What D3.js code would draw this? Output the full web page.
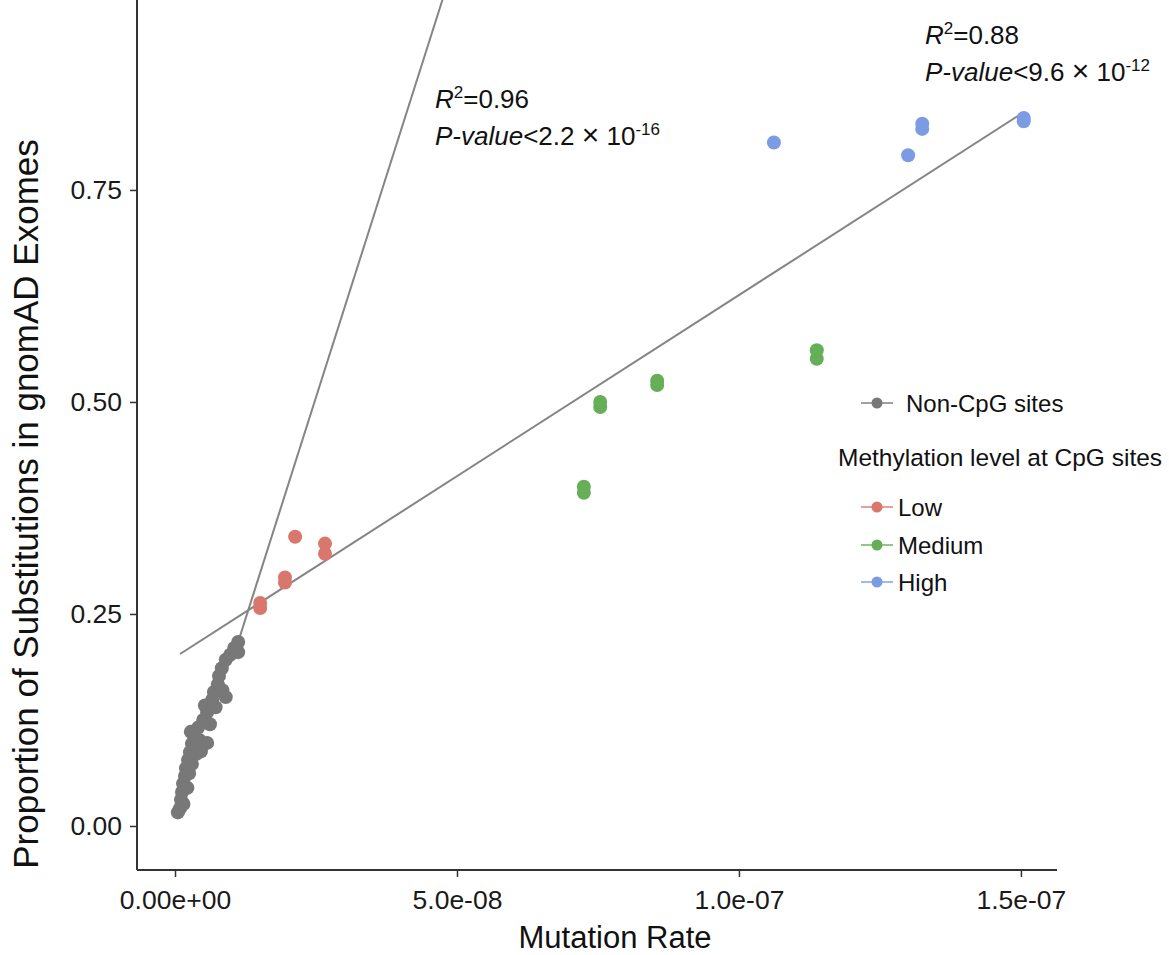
<!DOCTYPE html>
<html><head><meta charset="utf-8">
<script src="https://cdn.jsdelivr.net/npm/d3@7"></script>
<style>body{margin:0;background:#fff;} text{font-family:"Liberation Sans",Arial,sans-serif;}</style>
</head><body>
<svg id="chart" width="1169" height="955"></svg>
<script>
// ---- data ----
const nonCpG = [
  [0.5e-9,0.016],[0.9e-9,0.021],[1.06e-9,0.031],[1.5e-9,0.026],[1.24e-9,0.040],[1.42e-9,0.050],
  [2.2e-9,0.045],[1.77e-9,0.059],[1.95e-9,0.068],[2.5e-9,0.062],[2.3e-9,0.078],[2.66e-9,0.087],
  [3.0e-9,0.073],[3.0e-9,0.097],[3.4e-9,0.106],[2.8e-9,0.111],[4.1e-9,0.116],[4.4e-9,0.101],
  [5.7e-9,0.098],[5.0e-9,0.125],[5.7e-9,0.134],[5.3e-9,0.142],[6.6e-9,0.149],[6.9e-9,0.158],
  [9.0e-9,0.152],[7.6e-9,0.167],[7.8e-9,0.177],[8.3e-9,0.186],[9.0e-9,0.196],[9.8e-9,0.202],
  [1.05e-8,0.210],[1.12e-8,0.217],[1.12e-8,0.205],[4.6e-9,0.088],[6.2e-9,0.120],
  [7.2e-9,0.140],[8.4e-9,0.160],[3.8e-9,0.085]
];
const lowCpG = [[2.13e-8,0.341],[2.66e-8,0.333],[2.66e-8,0.321],[1.95e-8,0.293],[1.95e-8,0.287],[1.51e-8,0.263],[1.51e-8,0.257]];
const mediumCpG = [[7.54e-8,0.494],[7.54e-8,0.500],[8.55e-8,0.520],[8.55e-8,0.525],[7.25e-8,0.393],[7.25e-8,0.400],[1.138e-7,0.551],[1.138e-7,0.561]];
const highCpG = [[1.062e-7,0.806],[1.325e-7,0.822],[1.325e-7,0.828],[1.30e-7,0.791],[1.505e-7,0.831],[1.505e-7,0.835]];
const seriesNames = ["Non-CpG sites","Low","Medium","High"];
const seriesColors = ["#787878","#d9776d","#66ae58","#7b9be2"];
// fitted lines: [slope, intercept, xStart, xEnd]
const fitNonCpG = [2.09e7, -0.017, 1.08e-8, 5.0e-8];
const fitAll = [4.27e6, 0.199, 0.89e-9, 1.505e-7];
const xTicks = [0, 5e-8, 1e-7, 1.5e-7];
const xTickLabels = ["0.00e+00","5.0e-08","1.0e-07","1.5e-07"];
const yTicks = [0, 0.25, 0.5, 0.75];
const yTickLabels = ["0.00","0.25","0.50","0.75"];

const svg = d3.select("#chart");
const L = 137, R = 1057, T = 0, B = 870;
const x = d3.scaleLinear().domain([-6.74e-9, 1.564e-7]).range([L, R]);
const y = d3.scaleLinear().domain([-0.0519, 0.974]).range([B, T]);

svg.append("defs").append("clipPath").attr("id","clip")
  .append("rect").attr("x",L).attr("y",T).attr("width",R-L).attr("height",B-T);

// regression lines
const plot = svg.append("g").attr("clip-path","url(#clip)");
[fitNonCpG, fitAll].forEach(f => {
  const [m,b,x0,x1] = f;
  plot.append("line")
    .attr("x1", x(x0)).attr("y1", y(m*x0+b))
    .attr("x2", x(x1)).attr("y2", y(m*x1+b))
    .attr("stroke","#858585").attr("stroke-width",2);
});

// points
[nonCpG, lowCpG, mediumCpG, highCpG].forEach((arr,i) => {
  plot.append("g").selectAll("circle").data(arr).join("circle")
    .attr("cx", d=>x(d[0])).attr("cy", d=>y(d[1])).attr("r",7)
    .attr("fill", seriesColors[i]);
});

// axes
const xAxis = svg.append("g").attr("transform",`translate(0,${B})`)
  .call(d3.axisBottom(x).tickValues(xTicks).tickFormat((d,i)=>xTickLabels[i]).tickSize(7).tickPadding(13));
const yAxis = svg.append("g").attr("transform",`translate(${L},0)`)
  .call(d3.axisLeft(y).tickValues(yTicks).tickFormat((d,i)=>yTickLabels[i]).tickSize(7).tickPadding(8));
[xAxis,yAxis].forEach(a=>{
  a.select(".domain").attr("stroke","#333").attr("stroke-width",2);
  a.selectAll(".tick line").attr("stroke","#333").attr("stroke-width",1.5);
  a.selectAll(".tick text").attr("fill","#1a1a1a").style("font-size","26.5px")
    .style("font-family","Liberation Sans, Arial, sans-serif");
});
xAxis.select(".domain").attr("d",`M${L},0H${R}`);
yAxis.select(".domain").attr("d",`M0,${B}V${T}`);

// axis titles
svg.append("text").attr("x",615).attr("y",948).attr("text-anchor","middle")
  .style("font-size","31px").attr("fill","#111").text("Mutation Rate");
svg.append("text").attr("transform","translate(38,504) rotate(-90)").attr("text-anchor","middle")
  .style("font-size","35px").attr("fill","#111").text("Proportion of Substitutions in gnomAD Exomes");

// annotations
function annot(x0, y0, r2, pval, exp){
  const t1 = svg.append("text").attr("x",x0).attr("y",y0).style("font-size","26px").attr("fill","#111");
  t1.append("tspan").style("font-style","italic").text("R");
  t1.append("tspan").attr("dy",-10).style("font-size","17px").text("2");
  t1.append("tspan").attr("dy",10).text("=" + r2);
  const t2 = svg.append("text").attr("x",x0).attr("y",y0+37).style("font-size","26px").attr("fill","#111");
  t2.append("tspan").style("font-style","italic").text("P-value");
  t2.append("tspan").text("<" + pval + " ");
  t2.append("tspan").style("font-size","30px").text("\u00D7");
  t2.append("tspan").text(" 10");
  t2.append("tspan").attr("dy",-10).style("font-size","17px").text(exp);
}
annot(435, 108, "0.96", "2.2", "-16");
annot(925, 44, "0.88", "9.6", "-12");

// legend
const lg = svg.append("g");
const legendRows = [
  {name: seriesNames[0], color: seriesColors[0], cy: 403, tx: 906},
  {name: seriesNames[1], color: seriesColors[1], cy: 507, tx: 898},
  {name: seriesNames[2], color: seriesColors[2], cy: 545, tx: 898},
  {name: seriesNames[3], color: seriesColors[3], cy: 582, tx: 898}
];
legendRows.forEach(r => {
  lg.append("line").attr("x1",861).attr("x2",893).attr("y1",r.cy).attr("y2",r.cy)
    .attr("stroke",r.color).attr("stroke-opacity",0.7).attr("stroke-width",2);
  lg.append("circle").attr("cx",877).attr("cy",r.cy).attr("r",5.5).attr("fill",r.color);
  lg.append("text").attr("x",r.tx).attr("y",r.cy+8.5).style("font-size","24px").attr("fill","#111").text(r.name);
});
lg.append("text").attr("x",838).attr("y",466).style("font-size","24.5px").attr("fill","#111").text("Methylation level at CpG sites");
</script>
</body></html>
